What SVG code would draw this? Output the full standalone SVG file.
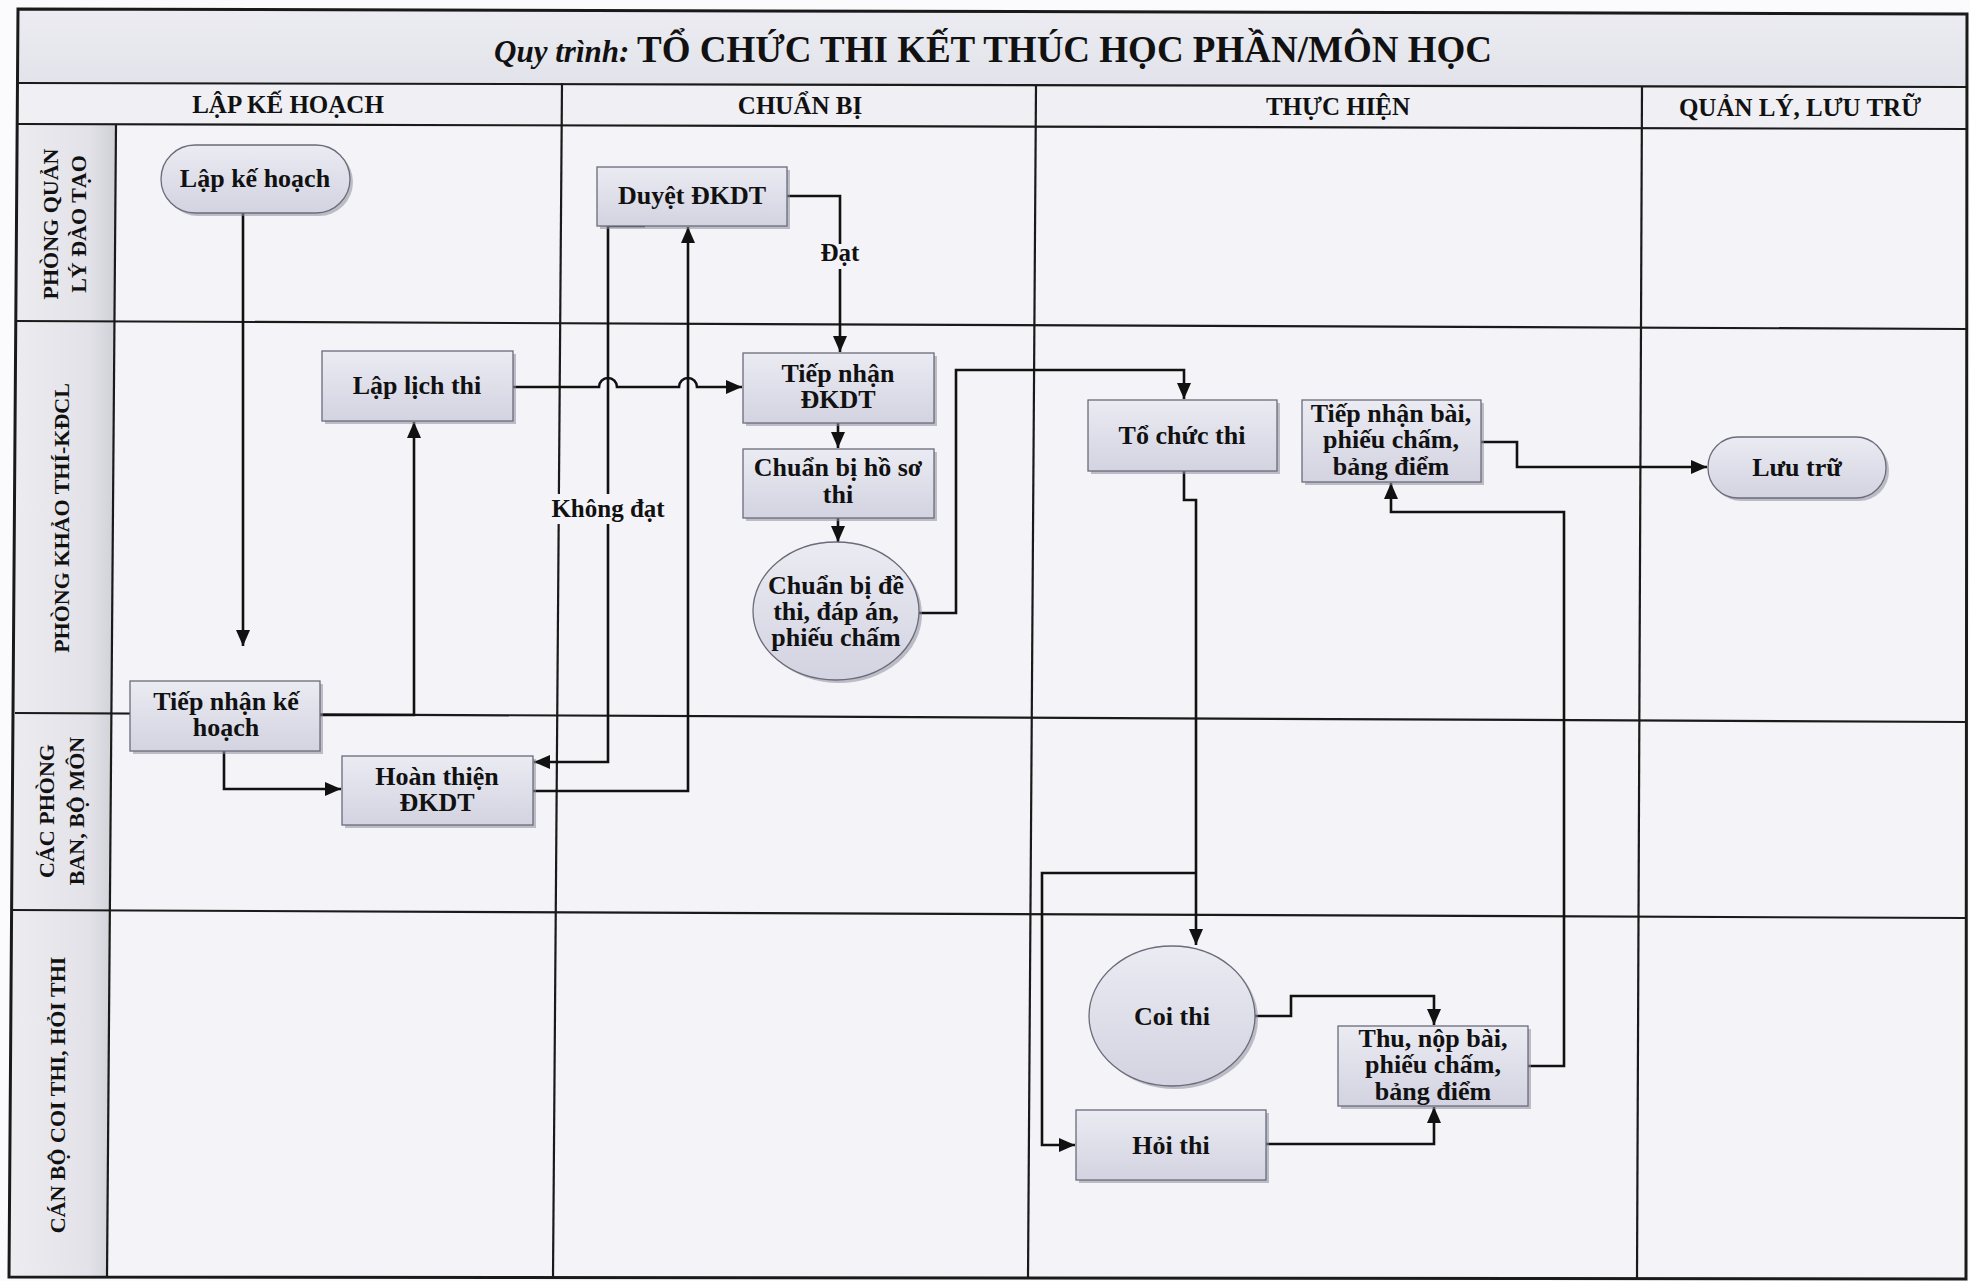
<svg xmlns="http://www.w3.org/2000/svg" width="1970" height="1281" viewBox="0 0 1970 1281">
<defs>
<linearGradient id="nodeFill" x1="0" y1="0" x2="0" y2="1">
<stop offset="0" stop-color="#ebebf3"/>
<stop offset="1" stop-color="#d3d3e1"/>
</linearGradient>
<linearGradient id="laneFill" x1="0" y1="0" x2="1" y2="0">
<stop offset="0" stop-color="#ececf1"/>
<stop offset="0.75" stop-color="#e2e2e8"/>
<stop offset="1" stop-color="#cfcfd7"/>
</linearGradient>
<linearGradient id="titleFill" x1="0" y1="0" x2="0" y2="1">
<stop offset="0" stop-color="#ececf2"/>
<stop offset="1" stop-color="#e2e2ea"/>
</linearGradient>
<marker id="arr" markerUnits="userSpaceOnUse" markerWidth="18" markerHeight="16" refX="16" refY="7" orient="auto">
<path d="M0,0 L16,7 L0,14 z" fill="#111"/>
</marker>
<style>
.grid{stroke:#1a1a1a;stroke-width:2.2;fill:none}
.frame{stroke:#1a1a1a;stroke-width:3;fill:none}
.conn{stroke:#111;stroke-width:2.6;fill:none}
.arrow{marker-end:url(#arr)}
.node{fill:url(#nodeFill);stroke:#6b6b7a;stroke-width:1.3}
.shadow{fill:#8e8e9c;opacity:0.55}
.t{font-family:"Liberation Serif","Times New Roman",serif;font-weight:bold;font-size:26px;fill:#111;text-anchor:middle}
.hdr{font-family:"Liberation Serif","Times New Roman",serif;font-weight:bold;font-size:25px;fill:#111;text-anchor:middle}
.lane{font-family:"Liberation Serif","Times New Roman",serif;font-weight:bold;font-size:22px;fill:#111;text-anchor:middle}
.lbl{font-family:"Liberation Serif","Times New Roman",serif;font-weight:bold;font-size:25px;fill:#111;text-anchor:middle}
</style>
</defs>

<!-- page background -->
<rect x="0" y="0" width="1970" height="1281" fill="#fbfbfd"/>
<polygon points="18,9 1967,14 1966,1279 9,1277" fill="#f4f4f8"/>
<polygon points="18,9 1967,14 1967,87 18,83" fill="url(#titleFill)"/>
<polygon points="18,83 1967,87 1967,129 18,124" fill="#efeff4"/>
<polygon points="17,124 116,124 107,1277 9,1277" fill="url(#laneFill)"/>

<!-- grid -->
<g id="grid">
<line class="grid" x1="18" y1="83" x2="1967" y2="87"/>
<line class="grid" x1="18" y1="124" x2="1967" y2="129"/>
<line class="grid" x1="17" y1="321" x2="1967" y2="329"/>
<line class="grid" x1="15" y1="713" x2="1967" y2="722"/>
<line class="grid" x1="13" y1="910" x2="1966" y2="918"/>
<line class="grid" x1="116" y1="124" x2="107" y2="1277"/>
<line class="grid" x1="562" y1="83" x2="553" y2="1278"/>
<line class="grid" x1="1036" y1="85" x2="1028" y2="1278"/>
<line class="grid" x1="1642" y1="86" x2="1637" y2="1279"/>
<polygon class="frame" points="18,9 1967,14 1966,1279 9,1277"/>
</g>

<!-- title and headers -->
<text x="993" y="62" text-anchor="middle" font-family="'Liberation Serif','Times New Roman',serif" fill="#111"><tspan font-style="italic" font-weight="bold" font-size="31">Quy trình: </tspan><tspan font-weight="bold" font-size="37">TỔ CHỨC THI KẾT THÚC HỌC PHẦN/MÔN HỌC</tspan></text>
<text class="hdr" x="288" y="113">LẬP KẾ HOẠCH</text>
<text class="hdr" x="800" y="114">CHUẨN BỊ</text>
<text class="hdr" x="1338" y="115">THỰC HIỆN</text>
<text class="hdr" x="1800" y="116">QUẢN LÝ, LƯU TRỮ</text>

<!-- lane labels -->
<g transform="translate(50,224) rotate(-90)"><text class="lane" x="0" y="8">PHÒNG QUẢN</text></g>
<g transform="translate(78,224) rotate(-90)"><text class="lane" x="0" y="8">LÝ ĐÀO TẠO</text></g>
<g transform="translate(61,518) rotate(-90)"><text class="lane" x="0" y="8">PHÒNG KHẢO THÍ-KĐCL</text></g>
<g transform="translate(46,811) rotate(-90)"><text class="lane" x="0" y="8">CÁC PHÒNG</text></g>
<g transform="translate(76,811) rotate(-90)"><text class="lane" x="0" y="8">BAN, BỘ MÔN</text></g>
<g transform="translate(57,1095) rotate(-90)"><text class="lane" x="0" y="8">CÁN BỘ COI THI, HỎI THI</text></g>

<!-- connectors -->
<g id="connectors">
<path class="conn arrow" d="M243,213 V646"/>
<path class="conn arrow" d="M320,715 H414 V422"/>
<path class="conn arrow" d="M224,751 V789 H341"/>
<path class="conn arrow" d="M533,791 H688 V227"/>
<path class="conn arrow" d="M645,226 H608 V762 H534"/>
<path class="conn arrow" d="M787,196 H840 V352"/>
<path class="conn arrow" d="M513,387 H599 A9,9 0 0 1 617,387 H679 A9,9 0 0 1 697,387 H742"/>
<path class="conn arrow" d="M838,423 V448"/>
<path class="conn arrow" d="M838,518 V542"/>
<path class="conn arrow" d="M919,613 H956 V370 H1184 V399"/>
<path class="conn arrow" d="M1184,471 V500 H1196 V945"/>
<path class="conn arrow" d="M1196,873 H1042 V1145 H1075"/>
<path class="conn arrow" d="M1255,1016 H1291 V996 H1434 V1025"/>
<path class="conn arrow" d="M1266,1144 H1434 V1107"/>
<path class="conn arrow" d="M1528,1066 H1564 V512 H1391 V483"/>
<path class="conn arrow" d="M1481,442 H1517 V467 H1707"/>
<rect x="818" y="244" width="44" height="25" fill="#f4f4f8"/>
<text class="lbl" x="840" y="261">Đạt</text>
<rect x="548" y="494" width="122" height="30" fill="#f4f4f8"/>
<text class="lbl" x="608" y="517">Không đạt</text>
</g>

<!-- nodes -->
<g id="n-lap-ke-hoach">
<rect class="shadow" x="164" y="148" width="189" height="68" rx="34"/>
<rect class="node" x="161" y="145" width="189" height="68" rx="34"/>
<text class="t" x="255" y="187">Lập kế hoạch</text>
</g>
<g id="n-lap-lich-thi">
<rect class="shadow" x="325" y="354" width="191" height="70"/>
<rect class="node" x="322" y="351" width="191" height="70"/>
<text class="t" x="417" y="394">Lập lịch thi</text>
</g>
<g id="n-duyet-dkdt">
<rect class="shadow" x="600" y="170" width="190" height="59"/>
<rect class="node" x="597" y="167" width="190" height="59"/>
<text class="t" x="692" y="204">Duyệt ĐKDT</text>
</g>
<g id="n-tiep-nhan-dkdt">
<rect class="shadow" x="746" y="356" width="191" height="70"/>
<rect class="node" x="743" y="353" width="191" height="70"/>
<text class="t" x="838" y="382">Tiếp nhận</text>
<text class="t" x="838" y="408">ĐKDT</text>
</g>
<g id="n-chuan-bi-ho-so">
<rect class="shadow" x="746" y="452" width="191" height="69"/>
<rect class="node" x="743" y="449" width="191" height="69"/>
<text class="t" x="838" y="476">Chuẩn bị hồ sơ</text>
<text class="t" x="838" y="503">thi</text>
</g>
<g id="n-chuan-bi-de-thi">
<ellipse class="shadow" cx="839" cy="614" rx="83" ry="69"/>
<ellipse class="node" cx="836" cy="611" rx="83" ry="69"/>
<text class="t" x="836" y="594">Chuẩn bị đề</text>
<text class="t" x="836" y="620">thi, đáp án,</text>
<text class="t" x="836" y="646">phiếu chấm</text>
</g>
<g id="n-tiep-nhan-ke-hoach">
<rect class="shadow" x="133" y="684" width="190" height="70"/>
<rect class="node" x="130" y="681" width="190" height="70"/>
<text class="t" x="226" y="710">Tiếp nhận kế</text>
<text class="t" x="226" y="736">hoạch</text>
</g>
<g id="n-hoan-thien-dkdt">
<rect class="shadow" x="345" y="759" width="191" height="69"/>
<rect class="node" x="342" y="756" width="191" height="69"/>
<text class="t" x="437" y="785">Hoàn thiện</text>
<text class="t" x="437" y="811">ĐKDT</text>
</g>
<g id="n-to-chuc-thi">
<rect class="shadow" x="1091" y="403" width="189" height="71"/>
<rect class="node" x="1088" y="400" width="189" height="71"/>
<text class="t" x="1182" y="444">Tổ chức thi</text>
</g>
<g id="n-tiep-nhan-bai">
<rect class="shadow" x="1305" y="403" width="179" height="82"/>
<rect class="node" x="1302" y="400" width="179" height="82"/>
<text class="t" x="1391" y="422">Tiếp nhận bài,</text>
<text class="t" x="1391" y="448">phiếu chấm,</text>
<text class="t" x="1391" y="475">bảng điểm</text>
</g>
<g id="n-luu-tru">
<rect class="shadow" x="1711" y="440" width="178" height="61" rx="30"/>
<rect class="node" x="1708" y="437" width="178" height="61" rx="30"/>
<text class="t" x="1797" y="476">Lưu trữ</text>
</g>
<g id="n-coi-thi">
<ellipse class="shadow" cx="1175" cy="1019" rx="83" ry="70"/>
<ellipse class="node" cx="1172" cy="1016" rx="83" ry="70"/>
<text class="t" x="1172" y="1025">Coi thi</text>
</g>
<g id="n-thu-nop-bai">
<rect class="shadow" x="1341" y="1029" width="190" height="80"/>
<rect class="node" x="1338" y="1026" width="190" height="80"/>
<text class="t" x="1433" y="1047">Thu, nộp bài,</text>
<text class="t" x="1433" y="1073">phiếu chấm,</text>
<text class="t" x="1433" y="1100">bảng điểm</text>
</g>
<g id="n-hoi-thi">
<rect class="shadow" x="1079" y="1113" width="190" height="70"/>
<rect class="node" x="1076" y="1110" width="190" height="70"/>
<text class="t" x="1171" y="1154">Hỏi thi</text>
</g>
</svg>
